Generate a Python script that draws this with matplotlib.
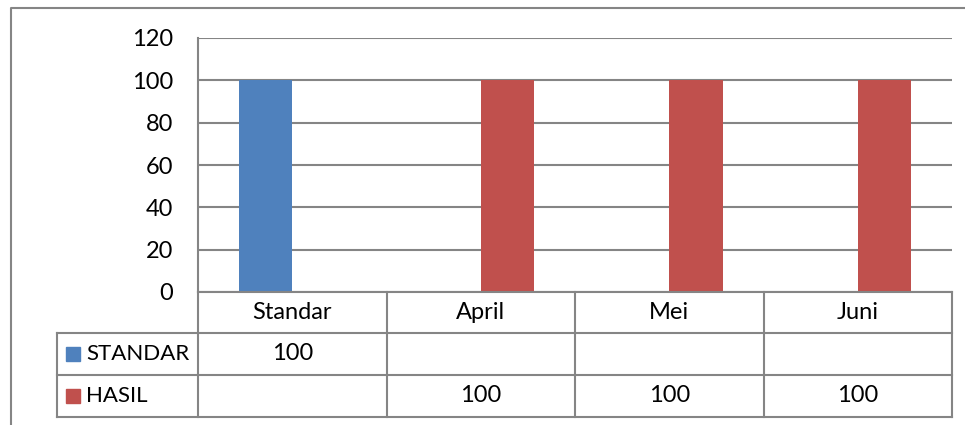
#!/usr/bin/env python3
import numpy as np
import matplotlib.pyplot as plt
from matplotlib.transforms import blended_transform_factory
from matplotlib.patches import Rectangle

# data
kategori = ['Standar', 'April', 'Mei', 'Juni']
standar = [100, None, None, None]
hasil = [None, 100, 100, 100]
seri = ['STANDAR', 'HASIL']
warna = ['#4F81BD', '#C0504D']
yticks = [0, 20, 40, 60, 80, 100, 120]

plt.rcParams['font.family'] = ['Lato', 'DejaVu Sans']
garis = '#858585'
W, H = 965, 425
fs = 17

fig = plt.figure(figsize=(W / 100, H / 100), dpi=100)


def fx(px):
    return px / W


def fy(py):
    return 1 - py / H


# plot area: 198..952 x 38..292 px
ax = fig.add_axes([fx(198), fy(292), fx(952) - fx(198), fy(38) - fy(292)])

x = np.arange(len(kategori))
lebar = 0.285
for i, (vals, c) in enumerate(zip([standar, hasil], warna)):
    for xi, v in zip(x, vals):
        if v is not None:
            ax.bar(xi + (i - 0.5) * lebar, v, width=lebar, color=c, zorder=3)

ax.set_xlim(-0.5, len(kategori) - 0.5)
ax.set_ylim(0, 120)
ax.set_yticks(yticks)
ax.set_yticklabels([str(t) for t in yticks])
ax.tick_params(axis='y', length=0, pad=18, labelsize=fs)
ax.set_xticks([])
ax.grid(axis='y', color=garis, linewidth=1.5, zorder=0)
for s in ['right', 'top', 'bottom']:
    ax.spines[s].set_visible(False)
ax.spines['left'].set_color(garis)
ax.spines['left'].set_linewidth(1.5)

# tabel data di bawah sumbu
tr = blended_transform_factory(ax.transData, fig.transFigure)
baris = [292, 333, 375, 417]
kiri_tabel = 57
for py in baris:
    x0 = 198 if py == 292 else kiri_tabel
    fig.add_artist(plt.Line2D([fx(x0), fx(952)], [fy(py), fy(py)],
                              color=garis, lw=1.5))
for b in np.arange(len(kategori) + 1) - 0.5:
    ax.plot([b, b], [fy(292), fy(417)], color=garis, lw=1.5,
            transform=tr, clip_on=False)
fig.add_artist(plt.Line2D([fx(kiri_tabel)] * 2, [fy(333), fy(417)],
                          color=garis, lw=1.5))

pusat = [(292 + 333) / 2, (333 + 375) / 2, (375 + 417) / 2]
for xi, k in zip(x, kategori):
    ax.text(xi, fy(pusat[0]), k, transform=tr, ha='center', va='center',
            fontsize=fs)
for r, (nama, vals, c) in enumerate(zip(seri, [standar, hasil], warna)):
    py = pusat[r + 1]
    fig.add_artist(Rectangle((fx(66), fy(py + 7)), fx(14), 14 / H,
                             color=c, transform=fig.transFigure))
    fig.text(fx(86), fy(py), nama, ha='left', va='center', fontsize=fs - 1)
    for xi, v in zip(x, vals):
        if v is not None:
            ax.text(xi, fy(py), str(v), transform=tr, ha='center',
                    va='center', fontsize=fs)

# bingkai area grafik
fig.add_artist(plt.Line2D([fx(11), fx(11), 1], [0, fy(8), fy(8)],
                          color=garis, lw=1.5))

fig.savefig('out.png', dpi=100)
